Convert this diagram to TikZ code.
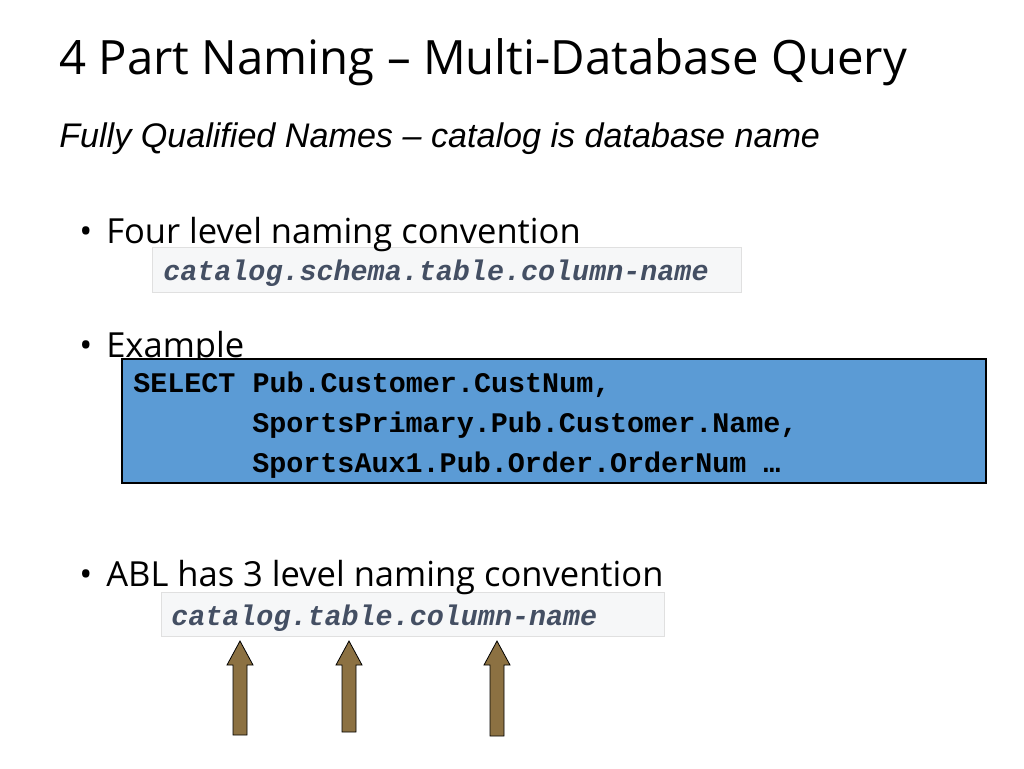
\documentclass[tikz,border=0pt]{standalone}
\usepackage{fontspec}
\setmainfont{Open Sans}
\newfontfamily\subfont{Liberation Sans}
\newfontfamily\codefont{Liberation Mono}
\usetikzlibrary{positioning}
\definecolor{codegray}{HTML}{F6F7F8}
\definecolor{codeline}{HTML}{E0E0E0}
\definecolor{codetext}{HTML}{444F63}
\definecolor{selblue}{HTML}{5B9BD5}
\definecolor{arrbrown}{HTML}{8C7142}
\tikzset{
	bullet/.style={anchor=base west, inner sep=0pt, font=\fontsize{25.9}{30}\selectfont},
	dot/.style={anchor=base west, inner sep=0pt, font=\fontsize{25.9}{30}\selectfont},
	code/.style={anchor=base west, inner sep=0pt, text=codetext, font=\codefont\bfseries\itshape\fontsize{21.3}{24}\selectfont},
	sel/.style={anchor=base west, inner sep=0pt, font=\codefont\bfseries\fontsize{21.3}{24}\selectfont},
	uparrow/.style={fill=arrbrown, draw=black, line width=0.6pt}
}
\newcommand{\uparr}[3]{% x, tip y, bottom y
	\draw[uparrow] (#1-7,#3) -- (#1-7,#2+24) -- (#1-13,#2+24) -- (#1,#2) -- (#1+13,#2+24) -- (#1+7,#2+24) -- (#1+7,#3) -- cycle;}
\begin{document}
\begin{tikzpicture}[x=0.75pt,y=-0.75pt]
	\useasboundingbox[fill=white] (0,0) rectangle (1024,768);

	% title
	\node[anchor=base west, inner sep=0pt, font=\fontsize{35.5}{42}\selectfont] (title) at (59,74) {4 Part Naming – Multi-Database Query};
	\node[anchor=base west, inner sep=0pt, font=\subfont\itshape\fontsize{25.6}{30}\selectfont] (sub) at (59,147) {Fully Qualified Names – catalog is database name};

	% four level
	\fill[codegray, draw=codeline, line width=0.6pt] (152,247) rectangle (741,292);
	\node[dot] (d1) at (79,243) {•};
	\node[bullet] (b1) at (106,243) {Four level naming convention};
	\node[code] (c1) at (163,280) {catalog.schema.table.column-name};

	% example
	\node[dot] (d2) at (79,357) {•};
	\node[bullet] (b2) at (106,357) {Example};
	\draw[fill=selblue, line width=0.8pt] (122,359) rectangle (986,483);
	\node[sel] (s1) at (133,392) {SELECT Pub.Customer.CustNum,};
	\node[sel] (s2) at (252,432) {SportsPrimary.Pub.Customer.Name,};
	\node[sel] (s3) at (252,472) {SportsAux1.Pub.Order.OrderNum …};

	% ABL
	\fill[codegray, draw=codeline, line width=0.6pt] (161,592) rectangle (664,636);
	\node[dot] (d3) at (79,586) {•};
	\node[bullet] (b3) at (106,586) {ABL has 3 level naming convention};
	\node[code] (c3) at (171,625) {catalog.table.column-name};

	% arrows
	\uparr{240}{641}{735}
	\uparr{349}{641}{732}
	\uparr{497}{641}{736}

\end{tikzpicture}
\end{document}
